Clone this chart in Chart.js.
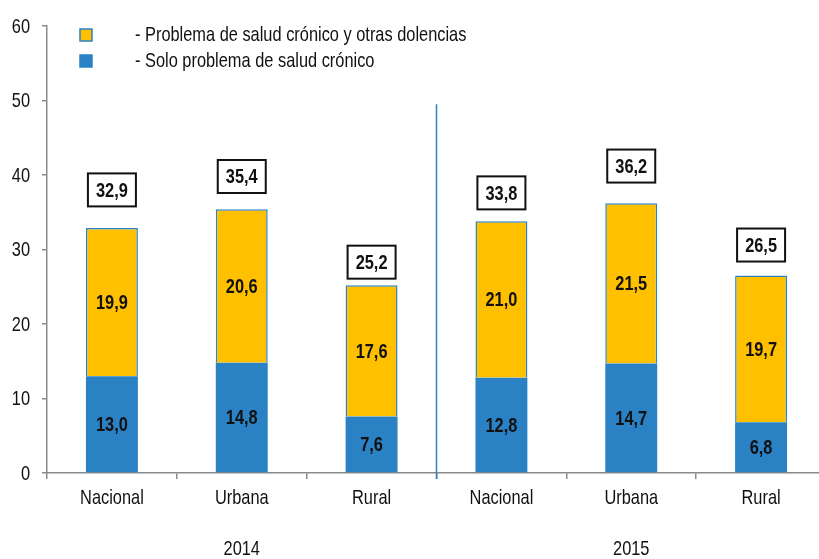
<!DOCTYPE html>
<html lang="es">
<head>
<meta charset="utf-8">
<script src="https://cdn.jsdelivr.net/npm/chart.js@4.4.1/dist/chart.umd.min.js"></script>
<style>
  html, body { margin: 0; padding: 0; background: #fff; overflow: hidden; }
  #contenedor { position: relative; width: 826px; height: 559px; }
</style>
</head>
<body>
<div id="contenedor"><canvas id="grafico"></canvas></div>
<script>
// datos
const categorias = ['Nacional', 'Urbana', 'Rural', 'Nacional', 'Urbana', 'Rural'];
const anios = ['2014', '2015'];
const soloCronico = [13.0, 14.8, 7.6, 12.8, 14.7, 6.8];
const cronicoYOtras = [19.9, 20.6, 17.6, 21.0, 21.5, 19.7];
const totales = [32.9, 35.4, 25.2, 33.8, 36.2, 26.5];
const ticksY = [0, 10, 20, 30, 40, 50, 60];

// altura (en unidades del eje) donde va el recuadro del total
const posRecuadro = [38.0, 39.8, 28.3, 37.6, 41.2, 30.6];

const AZUL = '#2A82C5';
const AMARILLO = '#FFC000';
const GRIS = '#8a8a8a';
const FUENTE = "'Liberation Sans', Arial, sans-serif";
const ANGOSTO = 0.78; // no hay Arial Narrow, se comprime el texto a mano

Chart.defaults.font.family = FUENTE;

function fmt(v) {
  return v.toFixed(1).replace('.', ',');
}

function texto(ctx, s, x, y, align) {
  ctx.save();
  ctx.translate(x, y);
  ctx.scale(ANGOSTO, 1);
  ctx.textAlign = align || 'center';
  ctx.textBaseline = 'middle';
  ctx.fillText(s, 0, 0);
  ctx.restore();
}

const etiquetas = {
  id: 'etiquetas',
  afterDatasetsDraw(chart) {
    const ctx = chart.ctx;
    const x = chart.scales.x;
    const y = chart.scales.y;
    ctx.save();
    ctx.fillStyle = '#111';

    // rotulos de los ejes
    ctx.font = '21px ' + FUENTE;
    ticksY.forEach(v => texto(ctx, String(v), y.right - 17, y.getPixelForValue(v) + 1, 'right'));
    categorias.forEach((c, j) => texto(ctx, c, x.getPixelForValue(j), 498));

    // anios debajo de las categorias
    anios.forEach((a, k) => {
      const cx = (x.getPixelForValue(k * 3) + x.getPixelForValue(k * 3 + 2)) / 2;
      texto(ctx, a, cx, 549);
    });

    // valores dentro de cada segmento
    ctx.font = 'bold 21px ' + FUENTE;
    chart.data.datasets.forEach((ds, i) => {
      const meta = chart.getDatasetMeta(i);
      meta.data.forEach((bar, j) => {
        texto(ctx, fmt(ds.data[j]), bar.x, (bar.y + bar.base) / 2 + 1);
      });
    });

    // recuadros con el total
    totales.forEach((t, j) => {
      const cx = x.getPixelForValue(j);
      const cy = y.getPixelForValue(posRecuadro[j]);
      ctx.fillStyle = '#fff';
      ctx.fillRect(cx - 24, cy - 16.5, 48, 33);
      ctx.lineWidth = 2;
      ctx.strokeStyle = '#111';
      ctx.strokeRect(cx - 24, cy - 16.5, 48, 33);
      ctx.fillStyle = '#111';
      texto(ctx, fmt(t), cx, cy + 1);
    });

    // linea que separa los dos anios
    const sep = (x.getPixelForValue(2) + x.getPixelForValue(3)) / 2;
    ctx.strokeStyle = AZUL;
    ctx.lineWidth = 1.5;
    ctx.beginPath();
    ctx.moveTo(sep, y.getPixelForValue(49.5));
    ctx.lineTo(sep, y.bottom + 6);
    ctx.stroke();

    // leyenda
    const items = [
      { color: AMARILLO, texto: '- Problema de salud crónico y otras dolencias', y: 35 },
      { color: AZUL, texto: '- Solo problema de salud crónico', y: 61 }
    ];
    ctx.font = '21px ' + FUENTE;
    items.forEach(it => {
      ctx.fillStyle = it.color;
      ctx.fillRect(80, it.y - 6, 12, 12);
      ctx.strokeStyle = AZUL;
      ctx.lineWidth = 1.5;
      ctx.strokeRect(80, it.y - 6, 12, 12);
      ctx.fillStyle = '#111';
      texto(ctx, it.texto, 135, it.y, 'left');
    });
    ctx.restore();
  }
};

new Chart(document.getElementById('grafico'), {
  type: 'bar',
  data: {
    labels: categorias,
    datasets: [
      {
        label: 'Solo problema de salud crónico',
        data: soloCronico,
        backgroundColor: AZUL,
        borderWidth: 0,
        barPercentage: 0.4,
        categoryPercentage: 1
      },
      {
        label: 'Problema de salud crónico y otras dolencias',
        data: cronicoYOtras,
        backgroundColor: AMARILLO,
        borderColor: AZUL,
        borderWidth: 1.5,
        borderSkipped: 'bottom',
        barPercentage: 0.4,
        categoryPercentage: 1
      }
    ]
  },
  options: {
    responsive: true,
    maintainAspectRatio: false,
    animation: false,
    layout: { padding: { top: 26, right: 0, left: 0, bottom: 0 } },
    plugins: {
      legend: { display: false },
      tooltip: { enabled: false }
    },
    scales: {
      x: {
        stacked: true,
        grid: { drawOnChartArea: false, drawTicks: true, tickLength: 6, color: GRIS, lineWidth: 1.5, offset: true },
        border: { color: GRIS, width: 1.5 },
        ticks: { display: false },
        afterFit: s => { s.height = 86; }
      },
      y: {
        stacked: true,
        min: 0,
        max: 60,
        afterBuildTicks: s => { s.ticks = ticksY.map(v => ({ value: v })); },
        grid: { drawOnChartArea: false, drawTicks: true, tickLength: 5, color: GRIS, lineWidth: 1.5 },
        border: { color: GRIS, width: 1.5 },
        ticks: { display: false },
        afterFit: s => { s.width = 47; }
      }
    }
  },
  plugins: [etiquetas]
});
</script>
</body>
</html>
